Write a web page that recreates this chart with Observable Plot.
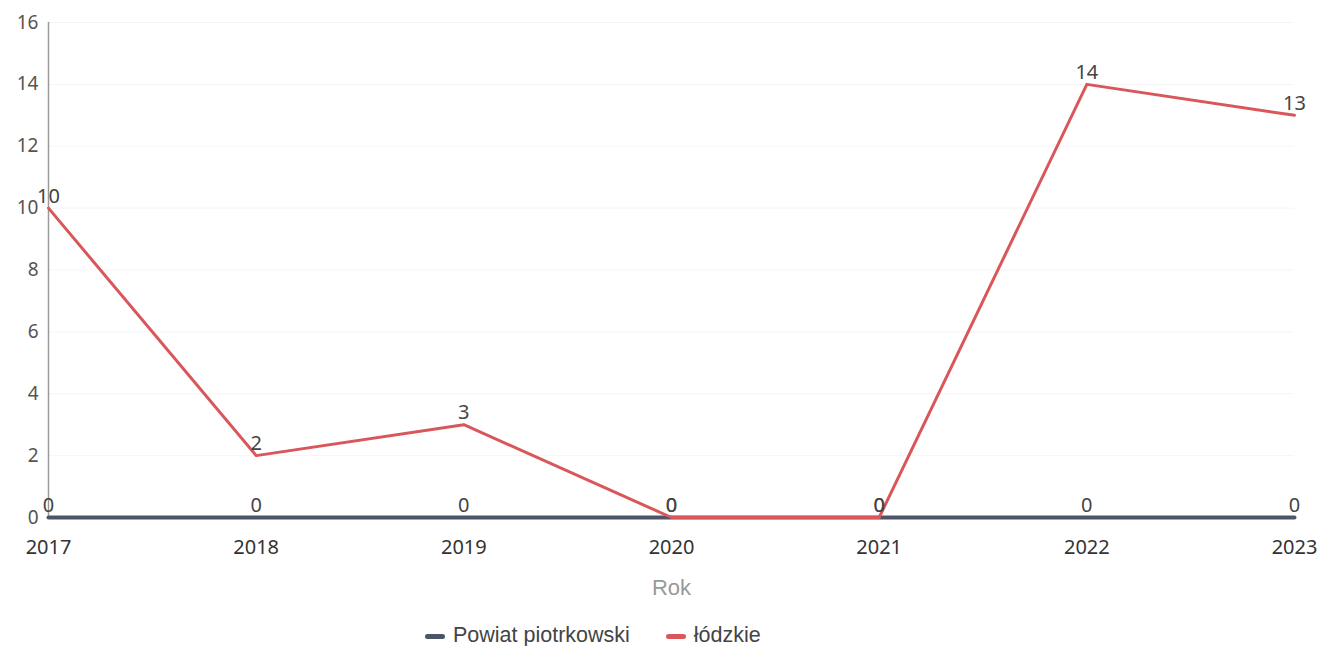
<!DOCTYPE html>
<html><head><meta charset="utf-8">
<script src="https://cdn.jsdelivr.net/npm/d3@7"></script>
<script src="https://cdn.jsdelivr.net/npm/@observablehq/plot@0.6"></script>
<style>
body{margin:0;background:#fff;}
#legend{position:relative;height:41px;font-family:"Liberation Sans",Arial,sans-serif;font-size:21.5px;color:#444;}
#legend .items{position:absolute;left:425px;top:18px;display:flex;gap:36px;align-items:center;white-space:nowrap;}
.sw{display:inline-block;width:20px;height:5px;border-radius:2.5px;margin-right:8px;vertical-align:middle;}
</style></head>
<body><div id="chart"></div><div id="legend"><div class="items"></div></div>
<script>
const years = [2017, 2018, 2019, 2020, 2021, 2022, 2023];
const seriesNames = ["Powiat piotrkowski", "łódzkie"];
const powiat = [0, 0, 0, 0, 0, 0, 0];
const lodzkie = [10, 2, 3, 0, 0, 14, 13];
const colors = ["#4b5567", "#d9575b"];
const yTicks = [0, 2, 4, 6, 8, 10, 12, 14, 16];

const data = [];
years.forEach((y, i) => data.push({year: y, value: powiat[i], series: seriesNames[0]}));
years.forEach((y, i) => data.push({year: y, value: lodzkie[i], series: seriesNames[1]}));

const plot = Plot.plot({
  width: 1320, height: 605,
  marginLeft: 48, marginRight: 26, marginTop: 22, marginBottom: 88,
  style: {fontFamily: "'Noto Sans', sans-serif", background: "#fff"},
  x: {domain: [2017, 2023], ticks: years, tickFormat: "d", label: null},
  y: {domain: [0, 16], ticks: yTicks, label: null},
  marks: [
    Plot.ruleY(yTicks.slice(1), {stroke: "#f5f5f5", strokeWidth: 1}),
    Plot.ruleX([2017], {y1: 0, y2: 16, stroke: "#9a9a9a", strokeWidth: 1.5}),
    Plot.axisY({ticks: yTicks, tickSize: 0, tickPadding: 10, fontSize: 19, fill: "#555", label: null}),
    Plot.axisX({ticks: years, tickFormat: "d", tickSize: 0, tickPadding: 22, fontSize: 20, fill: "#333", label: null}),
    Plot.text(["Rok"], {frameAnchor: "bottom", dy: 77, fontSize: 22, fill: "#999", fontFamily: "'Liberation Sans', Arial, sans-serif"}),
    Plot.line(data.filter(d => d.series === seriesNames[0]), {x: "year", y: "value", stroke: colors[0], strokeWidth: 4}),
    Plot.line(data.filter(d => d.series === seriesNames[1]), {x: "year", y: "value", stroke: colors[1], strokeWidth: 3}),
    Plot.text(data, {x: "year", y: "value", text: d => String(d.value), dy: -12, fontSize: 20, fill: "#444"})
  ]
});
document.getElementById("chart").appendChild(plot);

const leg = document.querySelector("#legend .items");
seriesNames.forEach((n, i) => {
  const s = document.createElement("span");
  s.innerHTML = `<span class="sw" style="background:${colors[i]}"></span>${n}`;
  leg.appendChild(s);
});
</script></body></html>
